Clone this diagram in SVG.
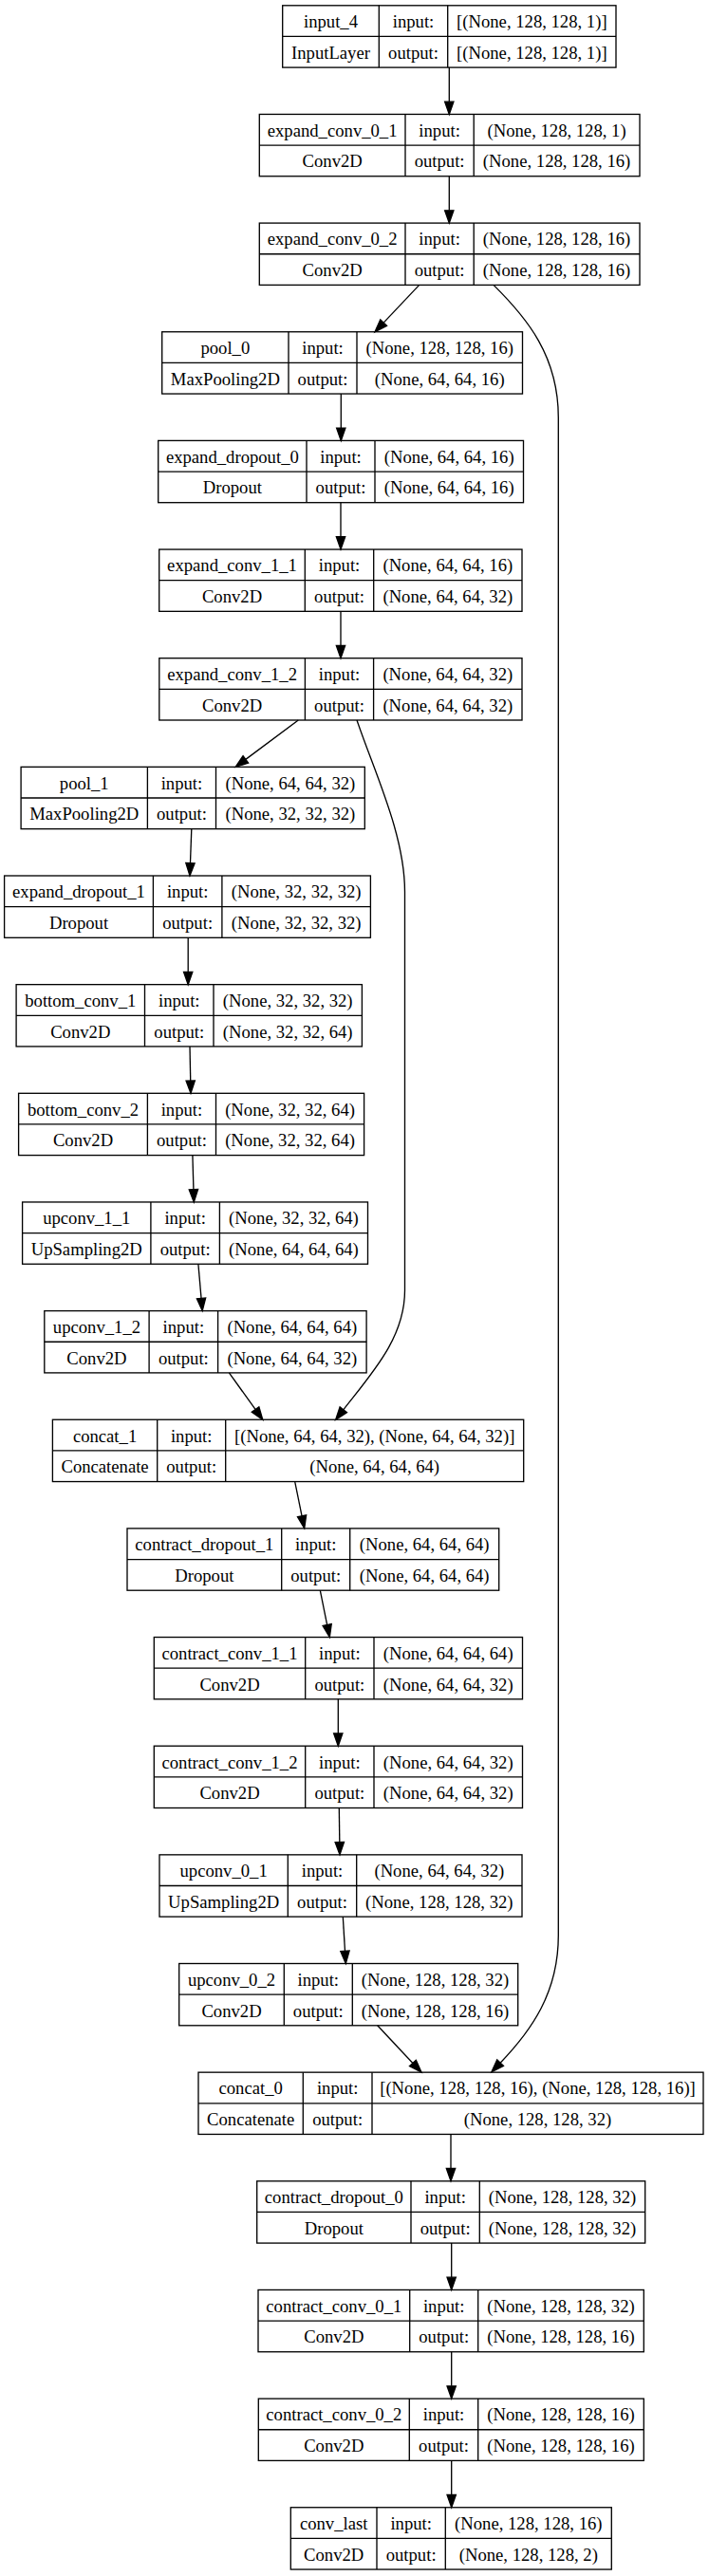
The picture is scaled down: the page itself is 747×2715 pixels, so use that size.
<svg xmlns="http://www.w3.org/2000/svg" width="747" height="2715" viewBox="0 0 747 2715">
<style>
.b{fill:none;stroke:#000;stroke-width:1.33}
.e{fill:none;stroke:#000;stroke-width:1.33;marker-end:url(#arr)}
text{font-family:"Liberation Serif","Times New Roman",serif;font-size:18.67px;fill:#000;text-anchor:middle}
</style>
<defs>
<marker id="arr" markerUnits="userSpaceOnUse" orient="auto" refX="0" refY="0" markerWidth="14" markerHeight="10" style="overflow:visible">
<path d="M0,-4.67 L13.3,0 L0,4.67 Z" fill="#000" stroke="#000" stroke-width="1.33"/>
</marker>
</defs>
<rect x="0" y="0" width="747" height="2715" fill="#fff"/>
<g id="edges">
<path class="e" d="M473.3,71.1 L473.3,107.15"/>
<path class="e" d="M473.3,185.75 L473.3,221.8"/>
<path class="e" d="M441.7,300.4 L404.14,340.09"/>
<path class="e" d="M520,300.4 C555,335 588.3,375 588.3,440 L588.3,2040 C588.3,2100 560,2140 527.1,2174.2"/>
<path class="e" d="M359.3,415.05 L359.3,451.1"/>
<path class="e" d="M359,529.7 L359,565.75"/>
<path class="e" d="M359,644.35 L359,680.4"/>
<path class="e" d="M314.3,759 L258.86,800.39"/>
<path class="e" d="M376,759 C395,815 426.5,880 426.5,940 L426.5,1360 C426.5,1410 392,1447 361.8,1485.8"/>
<path class="e" d="M201.8,873.65 L200.48,909.71"/>
<path class="e" d="M198.2,988.3 L198.2,1024.35"/>
<path class="e" d="M200,1102.95 L200.73,1139"/>
<path class="e" d="M202.9,1217.6 L203.92,1253.66"/>
<path class="e" d="M208.9,1332.25 L212.05,1368.35"/>
<path class="e" d="M241.4,1446.9 L269.05,1485.44"/>
<path class="e" d="M310.7,1561.55 L318.06,1597.86"/>
<path class="e" d="M337.3,1676.2 L344.66,1712.51"/>
<path class="e" d="M356.3,1790.85 L356.3,1826.9"/>
<path class="e" d="M357.3,1905.5 L357.81,1941.55"/>
<path class="e" d="M361.3,2020.15 L363.49,2056.22"/>
<path class="e" d="M397.7,2134.8 L434.9,2174.45"/>
<path class="e" d="M475,2249.45 L475,2285.5"/>
<path class="e" d="M475.7,2364.1 L475.7,2400.15"/>
<path class="e" d="M475.7,2478.75 L475.7,2514.8"/>
<path class="e" d="M475.7,2593.4 L475.7,2629.45"/>
</g>
<g id="input_4">
<rect class="b" x="297.7" y="5.8" width="351.3" height="65.3"/>
<path class="b" d="M297.7,38.45 H649 M399.3,5.8 V71.1 M471.7,5.8 V71.1"/>
<text x="348.5" y="29.1">input_4</text><text x="348.5" y="61.8">InputLayer</text>
<text x="435.5" y="29.1">input:</text><text x="435.5" y="61.8">output:</text>
<text x="560.35" y="29.1">[(None, 128, 128, 1)]</text><text x="560.35" y="61.8">[(None, 128, 128, 1)]</text>
</g>
<g id="expand_conv_0_1">
<rect class="b" x="273.3" y="120.45" width="400.7" height="65.3"/>
<path class="b" d="M273.3,153.1 H674 M427,120.45 V185.75 M499.2,120.45 V185.75"/>
<text x="350.15" y="143.75">expand_conv_0_1</text><text x="350.15" y="176.45">Conv2D</text>
<text x="463.1" y="143.75">input:</text><text x="463.1" y="176.45">output:</text>
<text x="586.6" y="143.75">(None, 128, 128, 1)</text><text x="586.6" y="176.45">(None, 128, 128, 16)</text>
</g>
<g id="expand_conv_0_2">
<rect class="b" x="273.3" y="235.1" width="400.7" height="65.3"/>
<path class="b" d="M273.3,267.75 H674 M427,235.1 V300.4 M499.2,235.1 V300.4"/>
<text x="350.15" y="258.4">expand_conv_0_2</text><text x="350.15" y="291.1">Conv2D</text>
<text x="463.1" y="258.4">input:</text><text x="463.1" y="291.1">output:</text>
<text x="586.6" y="258.4">(None, 128, 128, 16)</text><text x="586.6" y="291.1">(None, 128, 128, 16)</text>
</g>
<g id="pool_0">
<rect class="b" x="170.7" y="349.75" width="379.8" height="65.3"/>
<path class="b" d="M170.7,382.4 H550.5 M304,349.75 V415.05 M376,349.75 V415.05"/>
<text x="237.35" y="373.05">pool_0</text><text x="237.35" y="405.75">MaxPooling2D</text>
<text x="340" y="373.05">input:</text><text x="340" y="405.75">output:</text>
<text x="463.25" y="373.05">(None, 128, 128, 16)</text><text x="463.25" y="405.75">(None, 64, 64, 16)</text>
</g>
<g id="expand_dropout_0">
<rect class="b" x="166.7" y="464.4" width="384.8" height="65.3"/>
<path class="b" d="M166.7,497.05 H551.5 M323,464.4 V529.7 M395,464.4 V529.7"/>
<text x="244.85" y="487.7">expand_dropout_0</text><text x="244.85" y="520.4">Dropout</text>
<text x="359" y="487.7">input:</text><text x="359" y="520.4">output:</text>
<text x="473.25" y="487.7">(None, 64, 64, 16)</text><text x="473.25" y="520.4">(None, 64, 64, 16)</text>
</g>
<g id="expand_conv_1_1">
<rect class="b" x="167.7" y="579.05" width="382.3" height="65.3"/>
<path class="b" d="M167.7,611.7 H550 M321.3,579.05 V644.35 M393.7,579.05 V644.35"/>
<text x="244.5" y="602.35">expand_conv_1_1</text><text x="244.5" y="635.05">Conv2D</text>
<text x="357.5" y="602.35">input:</text><text x="357.5" y="635.05">output:</text>
<text x="471.85" y="602.35">(None, 64, 64, 16)</text><text x="471.85" y="635.05">(None, 64, 64, 32)</text>
</g>
<g id="expand_conv_1_2">
<rect class="b" x="167.8" y="693.7" width="382.2" height="65.3"/>
<path class="b" d="M167.8,726.35 H550 M321.4,693.7 V759 M393.6,693.7 V759"/>
<text x="244.6" y="717">expand_conv_1_2</text><text x="244.6" y="749.7">Conv2D</text>
<text x="357.5" y="717">input:</text><text x="357.5" y="749.7">output:</text>
<text x="471.8" y="717">(None, 64, 64, 32)</text><text x="471.8" y="749.7">(None, 64, 64, 32)</text>
</g>
<g id="pool_1">
<rect class="b" x="22.1" y="808.35" width="362.2" height="65.3"/>
<path class="b" d="M22.1,841 H384.3 M155.4,808.35 V873.65 M227.5,808.35 V873.65"/>
<text x="88.75" y="831.65">pool_1</text><text x="88.75" y="864.35">MaxPooling2D</text>
<text x="191.45" y="831.65">input:</text><text x="191.45" y="864.35">output:</text>
<text x="305.9" y="831.65">(None, 64, 64, 32)</text><text x="305.9" y="864.35">(None, 32, 32, 32)</text>
</g>
<g id="expand_dropout_1">
<rect class="b" x="4.6" y="923" width="385.8" height="65.3"/>
<path class="b" d="M4.6,955.65 H390.4 M161.4,923 V988.3 M233.9,923 V988.3"/>
<text x="83" y="946.3">expand_dropout_1</text><text x="83" y="979">Dropout</text>
<text x="197.65" y="946.3">input:</text><text x="197.65" y="979">output:</text>
<text x="312.15" y="946.3">(None, 32, 32, 32)</text><text x="312.15" y="979">(None, 32, 32, 32)</text>
</g>
<g id="bottom_conv_1">
<rect class="b" x="17.1" y="1037.65" width="364.3" height="65.3"/>
<path class="b" d="M17.1,1070.3 H381.4 M152.5,1037.65 V1102.95 M225,1037.65 V1102.95"/>
<text x="84.8" y="1060.95">bottom_conv_1</text><text x="84.8" y="1093.65">Conv2D</text>
<text x="188.75" y="1060.95">input:</text><text x="188.75" y="1093.65">output:</text>
<text x="303.2" y="1060.95">(None, 32, 32, 32)</text><text x="303.2" y="1093.65">(None, 32, 32, 64)</text>
</g>
<g id="bottom_conv_2">
<rect class="b" x="19.6" y="1152.3" width="364" height="65.3"/>
<path class="b" d="M19.6,1184.95 H383.6 M155.4,1152.3 V1217.6 M227.5,1152.3 V1217.6"/>
<text x="87.5" y="1175.6">bottom_conv_2</text><text x="87.5" y="1208.3">Conv2D</text>
<text x="191.45" y="1175.6">input:</text><text x="191.45" y="1208.3">output:</text>
<text x="305.55" y="1175.6">(None, 32, 32, 64)</text><text x="305.55" y="1208.3">(None, 32, 32, 64)</text>
</g>
<g id="upconv_1_1">
<rect class="b" x="23.6" y="1266.95" width="363.9" height="65.3"/>
<path class="b" d="M23.6,1299.6 H387.5 M158.9,1266.95 V1332.25 M231.4,1266.95 V1332.25"/>
<text x="91.25" y="1290.25">upconv_1_1</text><text x="91.25" y="1322.95">UpSampling2D</text>
<text x="195.15" y="1290.25">input:</text><text x="195.15" y="1322.95">output:</text>
<text x="309.45" y="1290.25">(None, 32, 32, 64)</text><text x="309.45" y="1322.95">(None, 64, 64, 64)</text>
</g>
<g id="upconv_1_2">
<rect class="b" x="46.8" y="1381.6" width="339.3" height="65.3"/>
<path class="b" d="M46.8,1414.25 H386.1 M157.1,1381.6 V1446.9 M229.6,1381.6 V1446.9"/>
<text x="101.95" y="1404.9">upconv_1_2</text><text x="101.95" y="1437.6">Conv2D</text>
<text x="193.35" y="1404.9">input:</text><text x="193.35" y="1437.6">output:</text>
<text x="307.85" y="1404.9">(None, 64, 64, 64)</text><text x="307.85" y="1437.6">(None, 64, 64, 32)</text>
</g>
<g id="concat_1">
<rect class="b" x="55.4" y="1496.25" width="496.3" height="65.3"/>
<path class="b" d="M55.4,1528.9 H551.7 M165.7,1496.25 V1561.55 M237.7,1496.25 V1561.55"/>
<text x="110.55" y="1519.55">concat_1</text><text x="110.55" y="1552.25">Concatenate</text>
<text x="201.7" y="1519.55">input:</text><text x="201.7" y="1552.25">output:</text>
<text x="394.7" y="1519.55">[(None, 64, 64, 32), (None, 64, 64, 32)]</text><text x="394.7" y="1552.25">(None, 64, 64, 64)</text>
</g>
<g id="contract_dropout_1">
<rect class="b" x="134" y="1610.9" width="391.7" height="65.3"/>
<path class="b" d="M134,1643.55 H525.7 M296.7,1610.9 V1676.2 M368.7,1610.9 V1676.2"/>
<text x="215.35" y="1634.2">contract_dropout_1</text><text x="215.35" y="1666.9">Dropout</text>
<text x="332.7" y="1634.2">input:</text><text x="332.7" y="1666.9">output:</text>
<text x="447.2" y="1634.2">(None, 64, 64, 64)</text><text x="447.2" y="1666.9">(None, 64, 64, 64)</text>
</g>
<g id="contract_conv_1_1">
<rect class="b" x="162.3" y="1725.55" width="388.2" height="65.3"/>
<path class="b" d="M162.3,1758.2 H550.5 M321.7,1725.55 V1790.85 M394,1725.55 V1790.85"/>
<text x="242" y="1748.85">contract_conv_1_1</text><text x="242" y="1781.55">Conv2D</text>
<text x="357.85" y="1748.85">input:</text><text x="357.85" y="1781.55">output:</text>
<text x="472.25" y="1748.85">(None, 64, 64, 64)</text><text x="472.25" y="1781.55">(None, 64, 64, 32)</text>
</g>
<g id="contract_conv_1_2">
<rect class="b" x="162.3" y="1840.2" width="388.2" height="65.3"/>
<path class="b" d="M162.3,1872.85 H550.5 M321.7,1840.2 V1905.5 M394,1840.2 V1905.5"/>
<text x="242" y="1863.5">contract_conv_1_2</text><text x="242" y="1896.2">Conv2D</text>
<text x="357.85" y="1863.5">input:</text><text x="357.85" y="1896.2">output:</text>
<text x="472.25" y="1863.5">(None, 64, 64, 32)</text><text x="472.25" y="1896.2">(None, 64, 64, 32)</text>
</g>
<g id="upconv_0_1">
<rect class="b" x="168" y="1954.85" width="382" height="65.3"/>
<path class="b" d="M168,1987.5 H550 M303.3,1954.85 V2020.15 M375.7,1954.85 V2020.15"/>
<text x="235.65" y="1978.15">upconv_0_1</text><text x="235.65" y="2010.85">UpSampling2D</text>
<text x="339.5" y="1978.15">input:</text><text x="339.5" y="2010.85">output:</text>
<text x="462.85" y="1978.15">(None, 64, 64, 32)</text><text x="462.85" y="2010.85">(None, 128, 128, 32)</text>
</g>
<g id="upconv_0_2">
<rect class="b" x="188.7" y="2069.5" width="357" height="65.3"/>
<path class="b" d="M188.7,2102.15 H545.7 M299.3,2069.5 V2134.8 M371.3,2069.5 V2134.8"/>
<text x="244" y="2092.8">upconv_0_2</text><text x="244" y="2125.5">Conv2D</text>
<text x="335.3" y="2092.8">input:</text><text x="335.3" y="2125.5">output:</text>
<text x="458.5" y="2092.8">(None, 128, 128, 32)</text><text x="458.5" y="2125.5">(None, 128, 128, 16)</text>
</g>
<g id="concat_0">
<rect class="b" x="209" y="2184.15" width="532" height="65.3"/>
<path class="b" d="M209,2216.8 H741 M319.3,2184.15 V2249.45 M392,2184.15 V2249.45"/>
<text x="264.15" y="2207.45">concat_0</text><text x="264.15" y="2240.15">Concatenate</text>
<text x="355.65" y="2207.45">input:</text><text x="355.65" y="2240.15">output:</text>
<text x="566.5" y="2207.45">[(None, 128, 128, 16), (None, 128, 128, 16)]</text><text x="566.5" y="2240.15">(None, 128, 128, 32)</text>
</g>
<g id="contract_dropout_0">
<rect class="b" x="270.7" y="2298.8" width="409" height="65.3"/>
<path class="b" d="M270.7,2331.45 H679.7 M433,2298.8 V2364.1 M505.3,2298.8 V2364.1"/>
<text x="351.85" y="2322.1">contract_dropout_0</text><text x="351.85" y="2354.8">Dropout</text>
<text x="469.15" y="2322.1">input:</text><text x="469.15" y="2354.8">output:</text>
<text x="592.5" y="2322.1">(None, 128, 128, 32)</text><text x="592.5" y="2354.8">(None, 128, 128, 32)</text>
</g>
<g id="contract_conv_0_1">
<rect class="b" x="272" y="2413.45" width="406.3" height="65.3"/>
<path class="b" d="M272,2446.1 H678.3 M431.7,2413.45 V2478.75 M503.7,2413.45 V2478.75"/>
<text x="351.85" y="2436.75">contract_conv_0_1</text><text x="351.85" y="2469.45">Conv2D</text>
<text x="467.7" y="2436.75">input:</text><text x="467.7" y="2469.45">output:</text>
<text x="591" y="2436.75">(None, 128, 128, 32)</text><text x="591" y="2469.45">(None, 128, 128, 16)</text>
</g>
<g id="contract_conv_0_2">
<rect class="b" x="272.3" y="2528.1" width="406" height="65.3"/>
<path class="b" d="M272.3,2560.75 H678.3 M431.3,2528.1 V2593.4 M503.7,2528.1 V2593.4"/>
<text x="351.8" y="2551.4">contract_conv_0_2</text><text x="351.8" y="2584.1">Conv2D</text>
<text x="467.5" y="2551.4">input:</text><text x="467.5" y="2584.1">output:</text>
<text x="591" y="2551.4">(None, 128, 128, 16)</text><text x="591" y="2584.1">(None, 128, 128, 16)</text>
</g>
<g id="conv_last">
<rect class="b" x="306.3" y="2642.75" width="338" height="65.3"/>
<path class="b" d="M306.3,2675.4 H644.3 M397,2642.75 V2708.05 M469.3,2642.75 V2708.05"/>
<text x="351.65" y="2666.05">conv_last</text><text x="351.65" y="2698.75">Conv2D</text>
<text x="433.15" y="2666.05">input:</text><text x="433.15" y="2698.75">output:</text>
<text x="556.8" y="2666.05">(None, 128, 128, 16)</text><text x="556.8" y="2698.75">(None, 128, 128, 2)</text>
</g>
</svg>
